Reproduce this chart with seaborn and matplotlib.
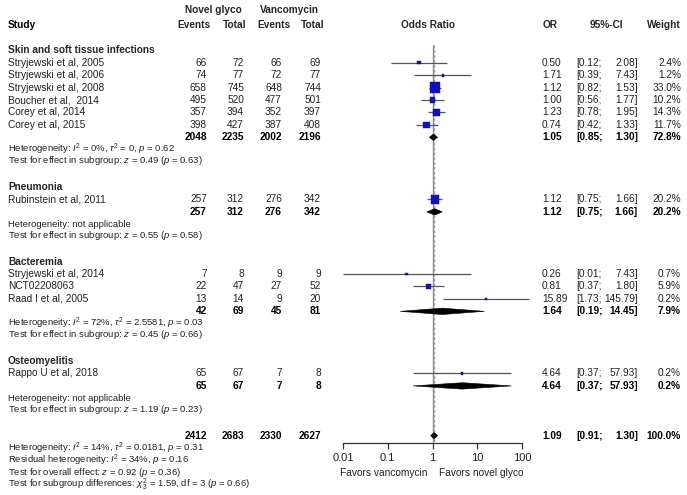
import numpy as np
import pandas as pd
import matplotlib
matplotlib.use("Agg")
import matplotlib.pyplot as plt
import seaborn as sns
from matplotlib.patches import Polygon

sns.set_style("white")
plt.rcParams['font.family'] = ['Liberation Sans', 'DejaVu Sans']
plt.rcParams['mathtext.fontset'] = 'custom'
plt.rcParams['mathtext.rm'] = 'Liberation Sans'
plt.rcParams['mathtext.it'] = 'Liberation Sans:italic'
plt.rcParams['mathtext.bf'] = 'Liberation Sans:bold'

# ---- data ----
subgroups = ["Skin and soft tissue infections", "Pneumonia", "Bacteremia", "Osteomyelitis"]
studies = ["Stryjewski et al, 2005", "Stryjewski et al, 2006", "Stryjewski et al, 2008",
           "Boucher et al,  2014", "Corey et al, 2014", "Corey et al, 2015",
           "Rubinstein et al, 2011",
           "Stryjewski et al, 2014", "NCT02208063", "Raad I et al, 2005",
           "Rappo U et al, 2018"]
study_group = [0, 0, 0, 0, 0, 0, 1, 2, 2, 2, 3]
ev_novel = [66, 74, 658, 495, 357, 398, 257, 7, 22, 13, 65]
tot_novel = [72, 77, 745, 520, 394, 427, 312, 8, 47, 14, 67]
ev_vanc = [66, 72, 648, 477, 352, 387, 276, 9, 27, 9, 7]
tot_vanc = [69, 77, 744, 501, 397, 408, 342, 9, 52, 20, 8]
odds = [0.50, 1.71, 1.12, 1.00, 1.23, 0.74, 1.12, 0.26, 0.81, 15.89, 4.64]
ci_low = [0.12, 0.39, 0.82, 0.56, 0.78, 0.42, 0.75, 0.01, 0.37, 1.73, 0.37]
ci_high = [2.08, 7.43, 1.53, 1.77, 1.95, 1.33, 1.66, 7.43, 1.80, 145.79, 57.93]
weight = [2.4, 1.2, 33.0, 10.2, 14.3, 11.7, 20.2, 0.7, 5.9, 0.2, 0.2]

sub_ev_novel = [2048, 257, 42, 65]
sub_tot_novel = [2235, 312, 69, 67]
sub_ev_vanc = [2002, 276, 45, 7]
sub_tot_vanc = [2196, 342, 81, 8]
sub_or = [1.05, 1.12, 1.64, 4.64]
sub_low = [0.85, 0.75, 0.19, 0.37]
sub_high = [1.30, 1.66, 14.45, 57.93]
sub_weight = [72.8, 20.2, 7.9, 0.2]
sub_het = ["Heterogeneity: $I^2$ = 0%, $\\tau^2$ = 0, $p$ = 0.62",
           "Heterogeneity: not applicable",
           "Heterogeneity: $I^2$ = 72%, $\\tau^2$ = 2.5581, $p$ = 0.03",
           "Heterogeneity: not applicable"]
sub_test = ["Test for effect in subgroup: $z$ = 0.49 ($p$ = 0.63)",
            "Test for effect in subgroup: $z$ = 0.55 ($p$ = 0.58)",
            "Test for effect in subgroup: $z$ = 0.45 ($p$ = 0.66)",
            "Test for effect in subgroup: $z$ = 1.19 ($p$ = 0.23)"]

overall_counts = [2412, 2683, 2330, 2627]
overall_or, overall_low, overall_high, overall_weight = 1.09, 0.91, 1.30, 100.0
overall_notes = ["Heterogeneity: $I^2$ = 14%, $\\tau^2$ = 0.0181, $p$ = 0.31",
                 "Residual heterogeneity: $I^2$ = 34%, $p$ = 0.16",
                 "Test for overall effect: $z$ = 0.92 ($p$ = 0.36)",
                 "Test for subgroup differences: $\\chi^2_3$ = 1.59, df = 3 ($p$ = 0.66)"]

x_ticks = [0.01, 0.1, 1, 10, 100]
x_ticklabels = ["0.01", "0.1", "1", "10", "100"]

# ---- layout (pixels) ----
W, H = 687, 495
Y0, DY = 50.3, 12.43
FS, FS_HET = 7.3, 6.8
TXT = '#222222'
col_ev1, col_tot1, col_ev2, col_tot2 = 207, 244, 282, 321
col_or, col_ci_l, col_ci_r, col_w = 542, 576, 638, 681


def ypix(r):
    return Y0 + DY * r


# build row positions
study_rows = []
sub_rows = []
r = 0
for g in range(len(subgroups)):
    idx = [i for i, s in enumerate(study_group) if s == g]
    sub_rows.append([r])  # header row
    for k, i in enumerate(idx):
        study_rows.append(r + 1 + k)
    r = r + 1 + len(idx)
    sub_rows[-1].append(r)  # summary row
    r += 4
overall_row = r

df = pd.DataFrame({'study': studies, 'or': odds, 'lo': ci_low, 'hi': ci_high,
                   'w': weight, 'y': [ypix(v) for v in study_rows]})

fig = plt.figure(figsize=(W / 100, H / 100), dpi=100)
ax = fig.add_axes([0, 0, 1, 1])
ax.set_xlim(0, W)
ax.set_ylim(H, 0)
ax.axis('off')

# headers
hy1, hy2 = 10, 25
ax.text(8, hy2, "Study", fontsize=FS, fontweight='bold', va='center', color='black')
ax.text(213, hy1, "Novel glyco", fontsize=FS, fontweight='bold', va='center', ha='center')
ax.text(289, hy1, "Vancomycin", fontsize=FS, fontweight='bold', va='center', ha='center')
for xx, lab in zip([211, 246, 290, 324], ["Events", "Total", "Events", "Total"]):
    ax.text(xx, hy2, lab, fontsize=FS, fontweight='bold', va='center', ha='right')
ax.text(428, hy2, "Odds Ratio", fontsize=FS, fontweight='bold', va='center', ha='center')
ax.text(col_or + 1, hy2, "OR", fontsize=FS, fontweight='bold', va='center', ha='left')
ax.text(606, hy2, "95%-CI", fontsize=FS, fontweight='bold', va='center', ha='center')
ax.text(col_w, hy2, "Weight", fontsize=FS, fontweight='bold', va='center', ha='right')


def num_row(y, vals, orv, lo, hi, w, bold):
    fw = 'bold' if bold else 'normal'
    c = 'black' if bold else TXT
    if vals is not None:
        for xx, v in zip([col_ev1, col_tot1, col_ev2, col_tot2], vals):
            ax.text(xx, y, str(v), fontsize=FS, fontweight=fw, color=c, va='center', ha='right')
    ax.text(col_or, y, f"{orv:.2f}", fontsize=FS, fontweight=fw, color=c, va='center', ha='left')
    ax.text(col_ci_l, y, f"[{lo:.2f};", fontsize=FS, fontweight=fw, color=c, va='center', ha='left')
    ax.text(col_ci_r, y, f"{hi:.2f}]", fontsize=FS, fontweight=fw, color=c, va='center', ha='right')
    ax.text(col_w, y, f"{w:.1f}%", fontsize=FS, fontweight=fw, color=c, va='center', ha='right')


for i, row in df.iterrows():
    ax.text(8, row['y'], row['study'], fontsize=FS, color=TXT, va='center')
    num_row(row['y'], [ev_novel[i], tot_novel[i], ev_vanc[i], tot_vanc[i]],
            odds[i], ci_low[i], ci_high[i], weight[i], False)

for g, (hr, sr) in enumerate(sub_rows):
    ax.text(8, ypix(hr), subgroups[g], fontsize=FS, fontweight='bold', va='center')
    num_row(ypix(sr), [sub_ev_novel[g], sub_tot_novel[g], sub_ev_vanc[g], sub_tot_vanc[g]],
            sub_or[g], sub_low[g], sub_high[g], sub_weight[g], True)
    ax.text(8, ypix(sr + 1.0), sub_het[g], fontsize=FS_HET, color=TXT, va='center')
    ax.text(8, ypix(sr + 1.9), sub_test[g], fontsize=FS_HET, color=TXT, va='center')

num_row(ypix(overall_row), overall_counts, overall_or, overall_low, overall_high,
        overall_weight, True)
for k, note in enumerate(overall_notes):
    ax.text(8, ypix(overall_row + 1.05 + 0.95 * k), note, fontsize=FS_HET, color=TXT, va='center')

# ---- forest panel ----
axis_y = 443
axf = fig.add_axes([343 / W, (H - axis_y) / H, 179 / W, axis_y / H])
axf.patch.set_alpha(0)
axf.set_xscale('log')
axf.set_xlim(0.01, 100)
axf.set_ylim(axis_y, 0)

top_line = ypix(-0.45)
axf.vlines(1, top_line, axis_y, color='#8a8a8a', lw=1.0, zorder=1)
axf.vlines(overall_or, top_line, axis_y, color='#a0a0a0', lw=1.0, ls=(0, (2, 1.5)), zorder=1)

axf.hlines(df['y'], df['lo'], df['hi'], color='#555555', lw=0.9, clip_on=False, zorder=2)
sns.scatterplot(data=df, x='or', y='y', size='w', sizes=(2.5, 55), size_norm=(0.2, 33),
                marker='s', color='#1010c8', edgecolor='#10106a', linewidth=0.3,
                legend=False, ax=axf, zorder=3, clip_on=False)


def diamond(y, est, lo, hi, h=3.2):
    p = Polygon([(lo, y), (est, y - h), (hi, y), (est, y + h)], closed=True,
                facecolor='black', edgecolor='black', lw=0.4, zorder=4, clip_on=False)
    axf.add_patch(p)


for g, (hr, sr) in enumerate(sub_rows):
    diamond(ypix(sr), sub_or[g], sub_low[g], sub_high[g])
diamond(ypix(overall_row), overall_or, overall_low, overall_high)

for s in ['top', 'left', 'right']:
    axf.spines[s].set_visible(False)
axf.spines['bottom'].set_color('#333333')
axf.spines['bottom'].set_linewidth(0.9)
axf.set_yticks([])
axf.set_xticks(x_ticks)
axf.set_xticklabels(x_ticklabels)
axf.minorticks_off()
axf.tick_params(axis='x', bottom=True, direction='out', length=4.5, width=0.9,
                color='#333333', labelsize=8, labelcolor=TXT, pad=3)
axf.set_xlabel('')
axf.set_ylabel('')

ax.text(427, 473, "Favors vancomycin", fontsize=FS, color=TXT, va='center', ha='right')
ax.text(439, 473, "Favors novel glyco", fontsize=FS, color=TXT, va='center', ha='left')

fig.savefig('out.png', dpi=100)
